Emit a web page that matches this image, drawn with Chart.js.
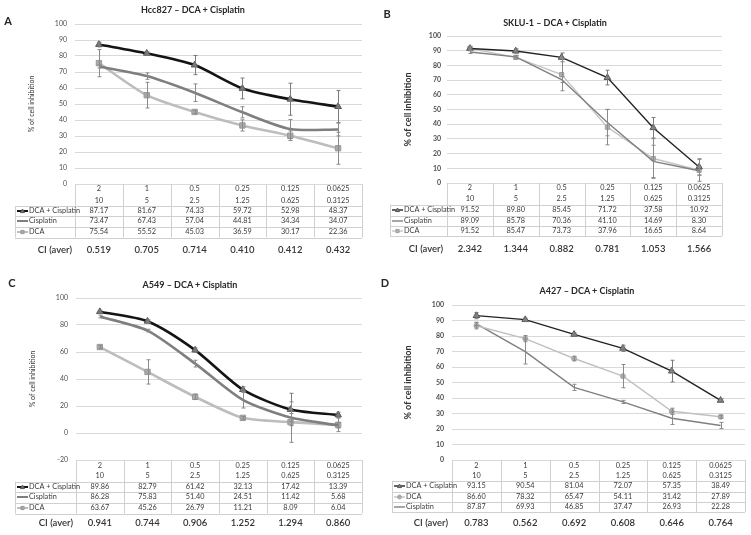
<!DOCTYPE html>
<html>
<head>
<meta charset="utf-8">
<script src="https://cdn.jsdelivr.net/npm/chart.js@4.4.1/dist/chart.umd.min.js"></script>
<style>
  body { margin: 0; background: #fff; font-family: Lato, "Open Sans", sans-serif; }
  #wrap { position: relative; width: 751px; height: 535px; overflow: hidden; }
  canvas { position: absolute; }
  .lbl { position: absolute; font-weight: bold; color: #262626; white-space: nowrap; }
  .letter { font-size: 11px; transform: translate(-50%, -50%); }
  .ttl { font-size: 9px; transform: translate(-50%, -50%); }
</style>
</head>
<body>
<div id="wrap">
  <canvas id="chartA" width="375" height="265" style="left:0;top:0"></canvas>
  <canvas id="chartB" width="376" height="265" style="left:375px;top:0"></canvas>
  <canvas id="chartC" width="375" height="270" style="left:0;top:265px"></canvas>
  <canvas id="chartD" width="376" height="270" style="left:375px;top:265px"></canvas>

  <div class="lbl letter" style="left:8px;top:20px">A</div>
  <div class="lbl ttl" style="left:193px;top:9px">Hcc827 – DCA + Cisplatin</div>
  <div class="lbl letter" style="left:387px;top:13px">B</div>
  <div class="lbl ttl" style="left:555px;top:22px">SKLU-1 – DCA + Cisplatin</div>
  <div class="lbl letter" style="left:12px;top:282px">C</div>
  <div class="lbl ttl" style="left:190px;top:284px">A549 – DCA + Cisplatin</div>
  <div class="lbl letter" style="left:385px;top:282px">D</div>
  <div class="lbl ttl" style="left:587px;top:290px">A427 – DCA + Cisplatin</div>
</div>
<script>
// doses (mM DCA / µM cisplatin)
const dcaDose = ['2', '1', '0.5', '0.25', '0.125', '0.0625'];
const cisDose = ['10', '5', '2.5', '1.25', '0.625', '0.3125'];

// A - Hcc827
const hccCombo = [87.17, 81.67, 74.33, 59.72, 52.98, 48.37];
const hccCis = [73.47, 67.43, 57.04, 44.81, 34.34, 34.07];
const hccDca = [75.54, 55.52, 45.03, 36.59, 30.17, 22.36];
const hccComboErr = [1.5, 1, 6, 6.5, 10, 10];
const hccCisErr = [1, 2, 5.5, 3.5, 6, 4];
const hccDcaErr = [8.5, 8, 1, 3.5, 3, 10];
const hccCI = ['0.519', '0.705', '0.714', '0.410', '0.412', '0.432'];

// B - SKLU-1
const skluCombo = [91.52, 89.80, 85.45, 71.72, 37.58, 10.92];
const skluCis = [89.09, 85.78, 70.36, 41.10, 14.69, 8.30];
const skluDca = [91.52, 85.47, 73.73, 37.96, 16.65, 8.64];
const skluComboErr = [1, 1.5, 3, 5, 7, 5.5];
const skluCisErr = [1, 1, 2, 9, 11, 3];
const skluDcaErr = [1.5, 1, 11, 12, 13.5, 7.5];
const skluCI = ['2.342', '1.344', '0.882', '0.781', '1.053', '1.566'];

// C - A549
const a549Combo = [89.86, 82.79, 61.42, 32.13, 17.42, 13.39];
const a549Cis = [86.28, 75.83, 51.40, 24.51, 11.42, 5.68];
const a549Dca = [63.67, 45.26, 26.79, 11.21, 8.09, 6.04];
const a549ComboErr = [1, 1, 1.5, 2, 12, 2];
const a549CisErr = [1, 1, 2.5, 6, 3, 2];
const a549DcaErr = [1, 9, 2, 1, 15, 5];
const a549CI = ['0.941', '0.744', '0.906', '1.252', '1.294', '0.860'];

// D - A427
const a427Combo = [93.15, 90.54, 81.04, 72.07, 57.35, 38.49];
const a427Dca = [86.60, 78.32, 65.47, 54.11, 31.42, 27.89];
const a427Cis = [87.87, 69.93, 46.85, 37.47, 26.93, 22.28];
const a427ComboErr = [2, 1, 1, 2, 7, 1];
const a427DcaErr = [2, 2, 1.5, 7.5, 2, 1];
const a427CisErr = [1, 8, 2, 1, 4, 2];
const a427CI = ['0.783', '0.562', '0.692', '0.608', '0.646', '0.764'];

const FONT = 'Lato';

// error bars drawn over the lines
const errorBars = {
  id: 'errorBars',
  afterDatasetsDraw(chart) {
    const { ctx, scales: { y } } = chart;
    ctx.save();
    ctx.lineWidth = 1;
    chart.data.datasets.forEach((ds, k) => {
      const pts = chart.getDatasetMeta(k).data;
      ctx.strokeStyle = ds.errColor;
      ds.errors.forEach((e, i) => {
        const x = Math.round(pts[i].x) + 0.5;
        const y1 = y.getPixelForValue(ds.data[i] + e);
        const y2 = y.getPixelForValue(ds.data[i] - e);
        ctx.beginPath();
        ctx.moveTo(x, y1); ctx.lineTo(x, y2);
        ctx.moveTo(x - 2, y1); ctx.lineTo(x + 2, y1);
        ctx.moveTo(x - 2, y2); ctx.lineTo(x + 2, y2);
        ctx.stroke();
      });
    });
    ctx.restore();
  }
};

function marker(ctx, style, x, y, r, fill, stroke) {
  ctx.fillStyle = fill; ctx.strokeStyle = stroke; ctx.lineWidth = 1;
  ctx.beginPath();
  if (style === 'triangle') {
    ctx.moveTo(x, y - r); ctx.lineTo(x + r, y + r * 0.8); ctx.lineTo(x - r, y + r * 0.8); ctx.closePath();
  } else if (style === 'rect') {
    ctx.rect(x - r * 0.8, y - r * 0.8, r * 1.6, r * 1.6);
  } else {
    ctx.arc(x, y, r, 0, Math.PI * 2);
  }
  ctx.fill(); ctx.stroke();
}

// data table under the plot, aligned with the category scale
const doseTable = {
  id: 'doseTable',
  afterDraw(chart, args, o) {
    const { ctx, chartArea: a, scales: { x } } = chart;
    const n = chart.data.labels.length;
    const w = (a.right - a.left) / n;
    const r = o.rows;
    const sep = [(r[1] + r[2]) / 2, (r[2] + r[3]) / 2, (r[3] + r[4]) / 2, r[4] + (r[4] - r[3]) / 2];
    ctx.save();
    ctx.strokeStyle = '#d0d0d0';
    ctx.lineWidth = 1;
    ctx.beginPath();
    for (let i = 0; i <= n; i++) {
      const xx = Math.round(a.left + i * w) + 0.5;
      ctx.moveTo(xx, a.bottom); ctx.lineTo(xx, sep[3]);
    }
    ctx.moveTo(o.labelLeft + 0.5, sep[0]); ctx.lineTo(o.labelLeft + 0.5, sep[3]);
    sep.forEach(s => { ctx.moveTo(o.labelLeft, Math.round(s) + 0.5); ctx.lineTo(a.right, Math.round(s) + 0.5); });
    ctx.stroke();

    ctx.textBaseline = 'middle';
    ctx.textAlign = 'center';
    ctx.fillStyle = '#3a3a3a';
    ctx.font = '7.3px ' + FONT;
    chart.data.labels.forEach((l, i) => {
      const cx = x.getPixelForValue(i);
      ctx.fillText(l[0], cx, r[0]);
      ctx.fillText(l[1], cx, r[1]);
    });
    chart.data.datasets.forEach((ds, k) => {
      const yy = r[2 + k];
      ds.data.forEach((v, i) => {
        ctx.fillStyle = '#3a3a3a';
        ctx.textAlign = 'center';
        ctx.fillText(v.toFixed(2), x.getPixelForValue(i), yy);
      });
      const lx = o.labelLeft + 2;
      ctx.strokeStyle = ds.borderColor;
      ctx.lineWidth = Math.min(ds.borderWidth, 2);
      ctx.beginPath(); ctx.moveTo(lx, yy); ctx.lineTo(lx + 11, yy); ctx.stroke();
      if (ds.pointRadius > 0) marker(ctx, ds.pointStyle, lx + 5.5, yy, 2, ds.pointBackgroundColor, ds.pointBorderColor);
      ctx.fillStyle = '#3a3a3a';
      ctx.textAlign = 'left';
      ctx.fillText(ds.label, lx + 12, yy);
    });

    ctx.font = '600 9.5px ' + FONT;
    ctx.fillStyle = '#333';
    ctx.textAlign = 'right';
    ctx.fillText('CI (aver)', o.ciLabelX, o.ciY);
    ctx.textAlign = 'center';
    o.ci.forEach((c, i) => ctx.fillText(c, x.getPixelForValue(i), o.ciY));
    ctx.restore();
  }
};

function series(label, data, errors, st) {
  return {
    label, data, errors,
    borderColor: st.color, borderWidth: st.width, tension: st.tension,
    pointStyle: st.point, pointRadius: st.radius,
    pointBackgroundColor: st.fill, pointBorderColor: st.edge, pointBorderWidth: 1,
    errColor: st.err
  };
}

function makePanel(id, p, sets, ci) {
  const titleFont = { family: FONT, size: p.yTitleSize, weight: p.bold ? 'bold' : 'normal' };
  const padLeft = p.yTitleX - titleFont.size * 0.6;
  return new Chart(document.getElementById(id).getContext('2d'), {
    type: 'line',
    data: { labels: dcaDose.map((d, i) => [d, cisDose[i]]), datasets: sets },
    options: {
      responsive: false,
      animation: false,
      layout: { padding: { left: padLeft, right: p.w - p.right, top: p.top, bottom: p.h - p.bottom } },
      plugins: {
        legend: { display: false },
        tooltip: { enabled: false },
        doseTable: { rows: p.rows, ciY: p.ciY, labelLeft: p.labelLeft, ciLabelX: p.ciLabelX, ci }
      },
      scales: {
        x: { display: false, offset: true },
        y: {
          min: p.min, max: p.max,
          ticks: { stepSize: p.step, padding: p.tickPad, color: '#505050',
                   font: { family: FONT, size: p.tickSize, weight: p.bold ? 'bold' : 'normal' } },
          grid: { color: '#d9d9d9', drawTicks: false },
          border: { display: false },
          title: { display: true, text: '% of cell inhibition', padding: 0, color: '#333', font: titleFont },
          afterFit: s => { s.width = p.left - padLeft; }
        }
      }
    },
    plugins: [errorBars, doseTable]
  });
}

// styles
const thickBlack = { color: '#141414', width: 2.6, tension: 0.25, point: 'triangle', radius: 3.8, fill: '#7a7a7a', edge: '#555', err: '#7a7a7a' };
const thickGray = { color: '#7f7f7f', width: 2.6, tension: 0.25, point: 'circle', radius: 0, fill: '#7f7f7f', edge: '#7f7f7f', err: '#8a8a8a' };
const thickLight = { color: '#bdbdbd', width: 2.6, tension: 0.25, point: 'rect', radius: 3.8, fill: '#a8a8a8', edge: '#9a9a9a', err: '#8a8a8a' };
const thinBlack = { color: '#222', width: 1.4, tension: 0, point: 'triangle', radius: 3.8, fill: '#8a8a8a', edge: '#555', err: '#7a7a7a' };
const thinGray = { color: '#808080', width: 1.4, tension: 0, point: 'circle', radius: 0, fill: '#808080', edge: '#808080', err: '#8a8a8a' };
const thinLight = { color: '#c4c4c4', width: 1.4, tension: 0, point: 'rect', radius: 3, fill: '#b0b0b0', edge: '#a0a0a0', err: '#8a8a8a' };
const thinLightDot = { color: '#c0c0c0', width: 1.4, tension: 0, point: 'circle', radius: 2.5, fill: '#aaa', edge: '#aaa', err: '#8a8a8a' };

makePanel('chartA',
  { w: 375, h: 265, left: 75, right: 362, top: 24, bottom: 184, min: 0, max: 100, step: 10,
    yTitleX: 32, yTitleSize: 7, tickSize: 7, tickPad: 8, bold: false,
    rows: [189, 201, 211, 221, 232], ciY: 250, labelLeft: 15, ciLabelX: 72 },
  [series('DCA + Cisplatin', hccCombo, hccComboErr, thickBlack),
   series('Cisplatin', hccCis, hccCisErr, thickGray),
   series('DCA', hccDca, hccDcaErr, thickLight)],
  hccCI);

makePanel('chartB',
  { w: 376, h: 265, left: 72, right: 347, top: 36, bottom: 183, min: 0, max: 100, step: 10,
    yTitleX: 33, yTitleSize: 9, tickSize: 7, tickPad: 6, bold: true,
    rows: [188, 199, 210, 221, 231], ciY: 249, labelLeft: 15, ciLabelX: 68 },
  [series('DCA + Cisplatin', skluCombo, skluComboErr, thinBlack),
   series('Cisplatin', skluCis, skluCisErr, thinGray),
   series('DCA', skluDca, skluDcaErr, thinLight)],
  skluCI);

makePanel('chartC',
  { w: 375, h: 270, left: 76, right: 362, top: 33, bottom: 195, min: -20, max: 100, step: 20,
    yTitleX: 33, yTitleSize: 7, tickSize: 7, tickPad: 8, bold: false,
    rows: [201, 211, 222, 232, 243], ciY: 258, labelLeft: 15, ciLabelX: 73 },
  [series('DCA + Cisplatin', a549Combo, a549ComboErr, thickBlack),
   series('Cisplatin', a549Cis, a549CisErr, thickGray),
   series('DCA', a549Dca, a549DcaErr, thickLight)],
  a549CI);

makePanel('chartD',
  { w: 376, h: 270, left: 77, right: 370, top: 40, bottom: 195, min: 0, max: 100, step: 10,
    yTitleX: 33, yTitleSize: 9, tickSize: 7, tickPad: 8, bold: true,
    rows: [201, 211, 221, 232, 242], ciY: 258, labelLeft: 17, ciLabelX: 73 },
  [series('DCA + Cisplatin', a427Combo, a427ComboErr, thinBlack),
   series('DCA', a427Dca, a427DcaErr, thinLightDot),
   series('Cisplatin', a427Cis, a427CisErr, thinGray)],
  a427CI);
</script>
</body>
</html>
